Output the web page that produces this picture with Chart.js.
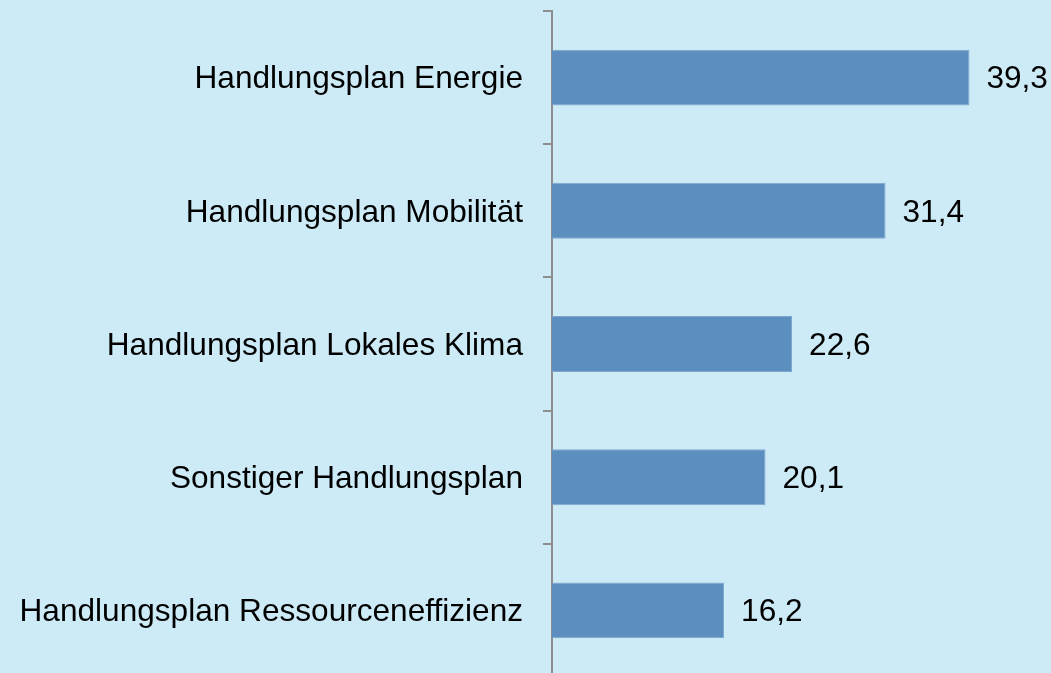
<!DOCTYPE html>
<html>
<head>
<meta charset="utf-8">
<script src="https://cdn.jsdelivr.net/npm/chart.js@4"></script>
<style>
  html, body { margin: 0; padding: 0; background: #CCEBF6; overflow: hidden; }
  #wrap { width: 1051px; height: 680px; }
</style>
</head>
<body>
<div id="wrap"><canvas id="chart"></canvas></div>
<script>
const categories = [
  'Handlungsplan Energie',
  'Handlungsplan Mobilität',
  'Handlungsplan Lokales Klima',
  'Sonstiger Handlungsplan',
  'Handlungsplan Ressourceneffizienz'
]
const values = [39.3, 31.4, 22.6, 20.1, 16.2]

const ctx = document.getElementById('chart')

const valueLabels = {
  id: 'valueLabels',
  afterDatasetsDraw(chart) {
    const c = chart.ctx
    const meta = chart.getDatasetMeta(0)
    c.save()
    c.font = '31.6px "Liberation Sans", Arial, sans-serif'
    c.fillStyle = '#000000'
    c.textAlign = 'left'
    c.textBaseline = 'middle'
    meta.data.forEach((bar, i) => {
      c.fillText(values[i].toFixed(1).replace('.', ','), bar.x + 17, bar.y + 2)
    })
    c.restore()
  }
}

new Chart(ctx, {
  type: 'bar',
  data: {
    labels: categories,
    datasets: [{
      data: values,
      backgroundColor: '#5D8EC0',
      borderColor: '#7FA6CE',
      borderWidth: { top: 1, bottom: 1, left: 0, right: 1 },
      barPercentage: 0.84,
      categoryPercentage: 0.5
    }]
  },
  options: {
    indexAxis: 'y',
    responsive: true,
    maintainAspectRatio: false,
    animation: false,
    layout: { padding: { top: 11, right: 21, bottom: 3, left: 0 } },
    plugins: {
      legend: { display: false },
      tooltip: { enabled: false }
    },
    scales: {
      x: {
        display: false,
        min: 0,
        max: 45
      },
      y: {
        afterFit(scale) {
          scale.width = 552
          scale.paddingTop = 0
          scale.paddingBottom = 0
        },
        border: { display: true, color: '#8E8E8E', width: 2 },
        grid: {
          drawOnChartArea: false,
          drawTicks: true,
          tickLength: 9,
          color: '#8E8E8E',
          lineWidth: 2
        },
        ticks: {
          color: '#000000',
          padding: 20,
          labelOffset: 2,
          font: { family: '"Liberation Sans", Arial, sans-serif', size: 31.6 }
        }
      }
    }
  },
  plugins: [valueLabels]
})
</script>
</body>
</html>
